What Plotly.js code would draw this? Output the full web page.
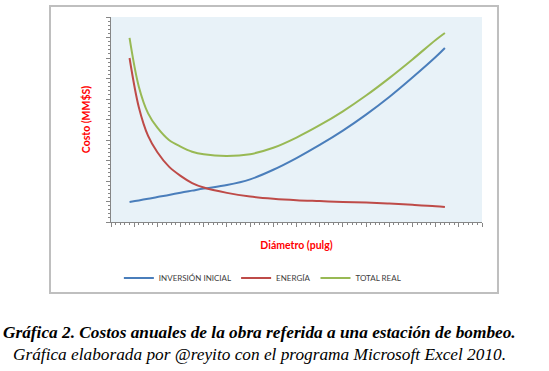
<!DOCTYPE html>
<html>
<head>
<meta charset="utf-8">
<script src="https://cdn.plot.ly/plotly-3.0.1.min.js"></script>
<style>html,body{margin:0;padding:0;background:#fff;}#chart{width:549px;height:371px;}</style>
</head>
<body>
<div id="chart"></div>
<script>
// Diameter positions (axis units; the original axis has no labels)
const diametro = [0.8, 1.2, 1.6, 2.0, 2.5, 3.0, 3.5, 4.0, 5.0, 6.0, 7.0, 8.0, 9.0, 10.0, 11.0, 12.0, 13.0, 14.0, 14.4];
const inversionInicial = [0.98, 1.05, 1.13, 1.22, 1.32, 1.43, 1.53, 1.63, 1.80, 2.08, 2.55, 3.12, 3.76, 4.46, 5.24, 6.10, 7.05, 8.05, 8.49];
const energia = [8.00, 5.60, 4.20, 3.40, 2.70, 2.25, 1.90, 1.68, 1.42, 1.24, 1.13, 1.06, 1.02, 0.98, 0.95, 0.90, 0.84, 0.77, 0.73];
const totalReal = [8.98, 6.60, 5.30, 4.60, 4.00, 3.68, 3.43, 3.30, 3.22, 3.31, 3.62, 4.12, 4.72, 5.40, 6.17, 7.02, 7.93, 8.88, 9.22];
const seriesNames = ["INVERSIÓN INICIAL", "ENERGÍA", "TOTAL REAL"];
const seriesColors = ["#4A7EBB", "#BE4B48", "#98B954"];
const xTitle = "Diámetro (pulg)";
const yTitle = "Costo (MM$S)";
const caption1 = "Gráfica 2. Costos anuales de la obra referida a una estación de bombeo.";
const caption2 = "Gráfica elaborada por @reyito con el programa Microsoft Excel 2010.";

const ys = [inversionInicial, energia, totalReal];
const traces = ys.map((y, i) => ({
  type: "scatter", mode: "lines", x: diametro, y: y, name: seriesNames[i],
  line: {color: seriesColors[i], width: 2, shape: "spline", smoothing: 1},
  hoverinfo: "skip"
}));

const axisCommon = {
  showgrid: false, zeroline: false, showline: true, linecolor: "#868686", linewidth: 1,
  showticklabels: false, ticks: "outside", ticklen: 4, tickcolor: "#868686", tickwidth: 1,
  minor: {ticks: "outside", ticklen: 2, tickcolor: "#868686", tickwidth: 1, showgrid: false},
  fixedrange: true
};

const layout = {
  width: 549, height: 371,
  margin: {l: 111, r: 67, t: 17, b: 149},
  paper_bgcolor: "#ffffff", plot_bgcolor: "#E8F2F8",
  font: {family: "Lato, 'Liberation Sans', sans-serif", color: "#404040", size: 8},
  showlegend: true,
  legend: {orientation: "h", x: 0.408, xanchor: "center", y: -0.273, yanchor: "middle",
           font: {family: "Lato, sans-serif", size: 8, color: "#404040"},
           itemwidth: 30, bgcolor: "rgba(0,0,0,0)", traceorder: "normal"},
  xaxis: Object.assign({}, axisCommon, {range: [0, 16], dtick: 1, tick0: 0,
    minor: Object.assign({}, axisCommon.minor, {dtick: 0.2}),
    title: {text: xTitle, font: {family: "Lato, sans-serif", size: 10.5, color: "#FF0000", weight: "bold"}, standoff: 15}}),
  yaxis: Object.assign({}, axisCommon, {range: [0, 10], dtick: 1, tick0: 0,
    minor: Object.assign({}, axisCommon.minor, {dtick: 0.2}),
    title: {text: yTitle, font: {family: "Lato, sans-serif", size: 10.5, color: "#FF0000", weight: "bold"}, standoff: 13}}),
  shapes: [{type: "rect", xref: "paper", yref: "paper", x0: -0.1644, x1: 1.0431, y0: -0.3463, y1: 1.0537,
            line: {color: "#BFBFBF", width: 2}, fillcolor: "rgba(0,0,0,0)", layer: "below"}],
  annotations: [
    {xref: "paper", yref: "paper", x: 0.4016, y: -0.537, xanchor: "center", yanchor: "middle", showarrow: false,
     text: "<b><i>" + caption1 + "</i></b>", font: {family: "'Liberation Serif', 'Times New Roman', serif", size: 17.3, color: "#000000"}},
    {xref: "paper", yref: "paper", x: 0.4016, y: -0.646, xanchor: "center", yanchor: "middle", showarrow: false,
     text: "<i>" + caption2 + "</i>", font: {family: "'Liberation Serif', 'Times New Roman', serif", size: 17.3, color: "#000000"}}
  ]
};

Plotly.newPlot("chart", traces, layout, {displayModeBar: false, staticPlot: true});
</script>
</body>
</html>
